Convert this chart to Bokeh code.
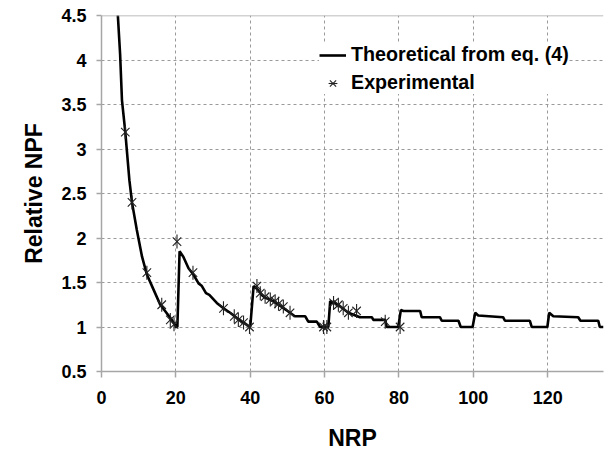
import math
from bokeh.plotting import figure
from bokeh.models import Range1d, FixedTicker, Legend, LegendItem, Span
from bokeh.embed import file_html
from bokeh.resources import INLINE

# ---- data ----
theo_x = [4.3, 5.0, 5.5, 6.4, 7.5, 8.2, 9.5, 10.9, 12.2, 14.0, 15.8, 17.1, 18.9, 20.1, 20.4,
          21.0, 22.0, 23.4, 24.7, 26.1, 27.0, 28.1, 29.0, 31.0, 32.8, 34.6, 36.4, 38.2, 40.0,
          40.9, 41.8, 43.1, 44.0, 46.2, 48.0, 50.7, 52.0, 54.8, 55.6, 57.9, 58.8, 61.0,
          61.5, 62.8, 64.2, 66.4, 69.5, 72.7, 73.1, 76.3, 76.7, 79.8,
          80.5, 81.2, 85.7, 86.1, 91.0, 91.5, 96.0, 96.6, 99.8,
          100.5, 101.3, 108.0, 108.5, 115.2, 115.7, 119.9,
          120.4, 121.5, 128.2, 128.8, 133.6, 134.0, 135.0]
theo_y = [4.57, 4.07, 3.55, 3.19, 2.65, 2.40, 2.09, 1.79, 1.59, 1.42, 1.25, 1.18, 1.08, 1.0, 1.0,
          1.85, 1.79, 1.66, 1.59, 1.49, 1.46, 1.38, 1.36, 1.27, 1.21, 1.16, 1.10, 1.05, 1.0,
          1.46, 1.43, 1.36, 1.33, 1.29, 1.24, 1.16, 1.12, 1.12, 1.06, 1.06, 1.0, 1.0,
          1.29, 1.27, 1.23, 1.16, 1.11, 1.11, 1.08, 1.08, 1.0, 1.0,
          1.19, 1.18, 1.18, 1.11, 1.11, 1.07, 1.07, 1.0, 1.0,
          1.16, 1.13, 1.11, 1.07, 1.07, 1.0, 1.0,
          1.16, 1.12, 1.11, 1.07, 1.07, 1.0, 1.0]

exp_x = [6.4, 8.2, 12.2, 16.2, 18.5, 19.5, 20.3, 24.6, 32.8, 35.7, 36.8, 38.2, 39.8,
         41.8, 42.7, 44.0, 45.4, 46.7, 47.6, 48.9, 50.7, 59.7, 60.6,
         62.4, 63.7, 65.0, 66.4, 68.6, 76.3, 80.3]
exp_y = [3.19, 2.40, 1.61, 1.25, 1.08, 1.03, 1.96, 1.61, 1.21, 1.12, 1.08, 1.05, 1.0,
         1.46, 1.38, 1.34, 1.31, 1.29, 1.26, 1.23, 1.16, 1.0, 1.0,
         1.27, 1.25, 1.21, 1.16, 1.18, 1.06, 1.0]

x_ticks = [0, 20, 40, 60, 80, 100, 120]
y_ticks = [0.5, 1, 1.5, 2, 2.5, 3, 3.5, 4, 4.5]
y_tick_labels = ["0.5", "1", "1.5", "2", "2.5", "3", "3.5", "4", "4.5"]

series_labels = ["Theoretical from eq. (4)", "Experimental"]
x_title = "NRP"
y_title = "Relative NPF"

FONT = "Liberation Sans"
GRID = "#9a9a9a"
AXIS = "#a6a6a6"

p = figure(width=606, height=453, output_backend="svg", toolbar_location=None,
           x_range=Range1d(0, 135), y_range=Range1d(0.5, 4.5),
           min_border_left=101, min_border_top=15, min_border_right=3, min_border_bottom=81)
p.outline_line_color = None
p.background_fill_color = "white"
p.border_fill_color = "white"

# axes
for ax in (p.xaxis[0], p.yaxis[0]):
    ax.axis_line_color = AXIS
    ax.axis_line_width = 1.5
    ax.major_tick_line_color = AXIS
    ax.major_tick_line_width = 1.5
    ax.major_tick_in = 0
    ax.minor_tick_line_color = None
    ax.major_label_text_font = FONT
    ax.major_label_text_font_style = "bold"
    ax.major_label_text_font_size = "18px"
    ax.major_label_text_color = "black"
    ax.axis_label_text_font = FONT
    ax.axis_label_text_font_style = "bold"
    ax.axis_label_text_font_size = "23px"
    ax.axis_label_text_color = "black"

p.xaxis.ticker = FixedTicker(ticks=x_ticks)
p.xaxis.major_tick_out = 6
p.xaxis.major_label_standoff = 13
p.xaxis.axis_label = x_title
p.xaxis.axis_label_standoff = 18

p.yaxis.ticker = FixedTicker(ticks=y_ticks)
p.yaxis.major_label_overrides = {t: l for t, l in zip(y_ticks, y_tick_labels)}
p.yaxis.major_tick_out = 5
p.yaxis.major_label_standoff = 10
p.yaxis.axis_label = y_title
p.yaxis.axis_label_standoff = 11

# grid
p.xgrid.ticker = FixedTicker(ticks=x_ticks)
p.ygrid.ticker = FixedTicker(ticks=y_ticks)
for g in (p.xgrid[0], p.ygrid[0]):
    g.grid_line_color = GRID
    g.grid_line_dash = "3 3"
    g.grid_line_width = 1

# top border of plot area
p.add_layout(Span(location=p.y_range.end, dimension="width", line_color=AXIS, line_width=1.5))

# data
line_r = p.line(theo_x, theo_y, line_color="black", line_width=2.6)
x_r = p.scatter(exp_x, exp_y, marker="x", size=12, line_color="#222222", line_width=1.1)
d_r = p.scatter(exp_x, exp_y, marker="dash", size=14, angle=math.pi / 2,
                line_color="#222222", line_width=1.1)

legend = Legend(items=[LegendItem(label=series_labels[0], renderers=[line_r]),
                       LegendItem(label=series_labels[1], renderers=[x_r, d_r])],
                location=(218, 277))
legend.label_text_font = FONT
legend.label_text_font_style = "bold"
legend.label_text_font_size = "19.7px"
legend.label_text_color = "black"
legend.glyph_width = 27
legend.glyph_height = 22
legend.label_height = 22
legend.label_standoff = 5
legend.spacing = 5
legend.padding = 5
legend.margin = 0
legend.border_line_color = None
legend.background_fill_color = "white"
legend.background_fill_alpha = 1.0
p.add_layout(legend)

open("out.html", "w").write(file_html(p, INLINE))
